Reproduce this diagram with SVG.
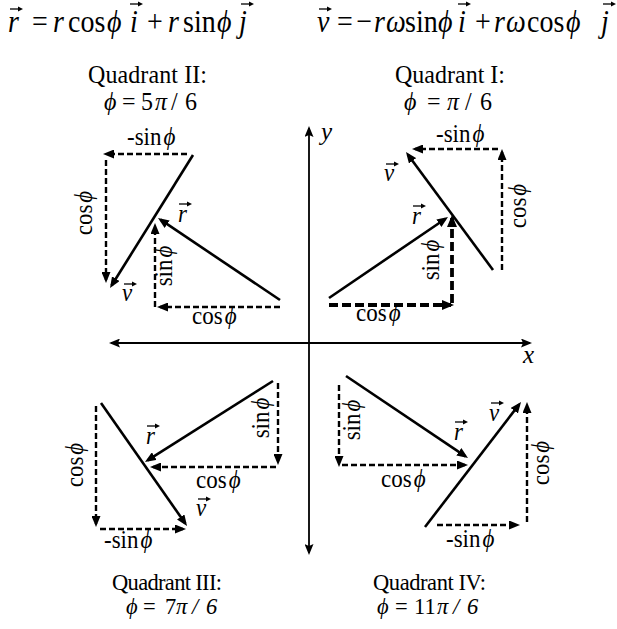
<svg xmlns="http://www.w3.org/2000/svg" width="617" height="629" viewBox="0 0 617 629">
<style>
text{font-family:"Liberation Serif","Times New Roman",serif;fill:#000}
.eq{font-size:28px}
.t{font-size:24px}
.tb{font-size:22.5px}
.l{font-size:23px}
.i{font-style:italic}
.vec{stroke:#000;stroke-width:2.6;fill:none;marker-end:url(#ah)}
.dash{stroke:#000;stroke-width:2.4;stroke-dasharray:6 3;fill:none;marker-end:url(#ah)}
.dashb{stroke:#000;stroke-width:3.8;stroke-dasharray:9 4;fill:none;marker-end:url(#ahb)}
.axis{stroke:#000;stroke-width:1.8;fill:none;marker-end:url(#aa)}
</style>
<defs>
<marker id="ah" markerUnits="userSpaceOnUse" markerWidth="11" markerHeight="9" refX="8" refY="4.5" orient="auto"><path d="M0,0 L11,4.5 L0,9 z"/></marker>
<marker id="ahb" markerUnits="userSpaceOnUse" markerWidth="12" markerHeight="10" refX="9" refY="5" orient="auto"><path d="M0,0 L12,5 L0,10 z"/></marker>
<marker id="aa" markerUnits="userSpaceOnUse" markerWidth="11" markerHeight="9" refX="9" refY="4.5" orient="auto"><path d="M0,0 L11,4.5 L0,9 L2,4.5 z"/></marker>
<g id="va"><path d="M-6,0 H3" stroke="#000" stroke-width="1.3"/><path d="M2,-2.6 L7,0 L2,2.6 z"/></g>
</defs>
<rect width="617" height="629" fill="#fff"/>

<g id="equation-r">
<text class="eq" transform="translate(0,32) scale(1,1.15)"><tspan class="i" x="8">r</tspan><tspan x="32">=</tspan><tspan class="i" x="53">r</tspan><tspan x="68">cos</tspan><tspan class="i" x="107">ϕ</tspan><tspan class="i" x="130">i</tspan><tspan x="147">+</tspan><tspan class="i" x="168">r</tspan><tspan x="183">sin</tspan><tspan class="i" x="217">ϕ</tspan><tspan class="i" x="239">j</tspan></text>
<use href="#va" x="16" y="9"/><use href="#va" x="136" y="4"/><use href="#va" x="247" y="4"/>
</g>
<g id="equation-v">
<text class="eq" transform="translate(0,32) scale(1,1.15)"><tspan class="i" x="317">v</tspan><tspan x="337">=</tspan><tspan x="356">−</tspan><tspan class="i" x="374">r</tspan><tspan class="i" x="386">ω</tspan><tspan x="405">sin</tspan><tspan class="i" x="438">ϕ</tspan><tspan class="i" x="458">i</tspan><tspan x="475">+</tspan><tspan class="i" x="494">r</tspan><tspan class="i" x="506">ω</tspan><tspan x="527">cos</tspan><tspan class="i" x="566">ϕ</tspan><tspan class="i" x="601">j</tspan></text>
<use href="#va" x="325" y="9"/><use href="#va" x="464" y="4"/><use href="#va" x="609" y="4"/>
</g>

<g id="axes">
<line class="axis" x1="309" y1="343" x2="309" y2="128"/>
<line class="axis" x1="309" y1="343" x2="309" y2="553"/>
<line class="axis" x1="309" y1="343" x2="111" y2="343"/>
<line class="axis" x1="309" y1="343" x2="530" y2="343"/>
<text class="i" x="321" y="140" font-size="25">y</text>
<text class="i" x="523" y="363" font-size="25">x</text>
</g>

<g id="quadrant-2">
<text class="t" transform="translate(0,83) scale(1,1.08)" x="88" textLength="119" lengthAdjust="spacing">Quadrant II:</text>
<text class="t" transform="translate(0,110) scale(1,1.08)"><tspan class="i" x="104">ϕ</tspan><tspan x="122">=</tspan><tspan x="141">5</tspan><tspan class="i" x="155">π</tspan><tspan x="171">/</tspan><tspan x="185">6</tspan></text>
<text class="l" transform="translate(127,145) scale(1,1.08)">-sin<tspan class="i" dx="2">ϕ</tspan></text>
<text class="l" transform="translate(92,213) rotate(-90) scale(1,1.08)" text-anchor="middle">cos<tspan class="i" dx="2">ϕ</tspan></text>
<text class="l" transform="translate(172,266) rotate(-90) scale(1,1.08)" text-anchor="middle">sin<tspan class="i" dx="2">ϕ</tspan></text>
<text class="l" transform="translate(192,324) scale(1,1.08)">cos<tspan class="i" dx="2">ϕ</tspan></text>
<text class="l i" transform="translate(178,222) scale(1,1.08)">r</text><use href="#va" x="185" y="204"/>
<text class="l i" transform="translate(122,301) scale(1,1.08)">v</text><use href="#va" x="130" y="284"/>
</g>

<g id="quadrant-1">
<text class="t" transform="translate(0,83) scale(1,1.08)" x="395" textLength="110" lengthAdjust="spacing">Quadrant I:</text>
<text class="t" transform="translate(0,110) scale(1,1.08)"><tspan class="i" x="404">ϕ</tspan><tspan x="427">=</tspan><tspan class="i" x="447">π</tspan><tspan x="465">/</tspan><tspan x="480">6</tspan></text>
<text class="l" transform="translate(436,142) scale(1,1.08)">-sin<tspan class="i" dx="2">ϕ</tspan></text>
<text class="l" transform="translate(526,206) rotate(-90) scale(1,1.08)" text-anchor="middle">cos<tspan class="i" dx="2">ϕ</tspan></text>
<text class="l" transform="translate(439,260) rotate(-90) scale(1,1.08)" text-anchor="middle">sin<tspan class="i" dx="2">ϕ</tspan></text>
<text class="l" transform="translate(356,321) scale(1,1.08)">cos<tspan class="i" dx="2">ϕ</tspan></text>
<text class="l i" transform="translate(412,224) scale(1,1.08)">r</text><use href="#va" x="419" y="206"/>
<text class="l i" transform="translate(384,181) scale(1,1.08)">v</text><use href="#va" x="392" y="164"/>
</g>

<g id="quadrant-3">
<text class="tb" x="112" y="590" textLength="110" lengthAdjust="spacing">Quadrant III:</text>
<text class="tb" y="614"><tspan class="i" x="126">ϕ</tspan><tspan x="143">=</tspan><tspan x="165">7</tspan><tspan class="i" x="176">π</tspan><tspan class="i" x="192">/</tspan><tspan class="i" x="206">6</tspan></text>
<text class="l" transform="translate(269,418) rotate(-90) scale(1,1.08)" text-anchor="middle">sin<tspan class="i" dx="2">ϕ</tspan></text>
<text class="l" transform="translate(196,488) scale(1,1.08)">cos<tspan class="i" dx="2">ϕ</tspan></text>
<text class="l" transform="translate(83,465) rotate(-90) scale(1,1.08)" text-anchor="middle">cos<tspan class="i" dx="2">ϕ</tspan></text>
<text class="l" transform="translate(104,548) scale(1,1.08)">-sin<tspan class="i" dx="2">ϕ</tspan></text>
<text class="l i" transform="translate(146,444) scale(1,1.08)">r</text><use href="#va" x="153" y="426"/>
<text class="l i" transform="translate(196,516) scale(1,1.08)">v</text><use href="#va" x="204" y="499"/>
</g>

<g id="quadrant-4">
<text class="tb" x="373" y="590" textLength="113" lengthAdjust="spacing">Quadrant IV:</text>
<text class="tb" y="614"><tspan class="i" x="377">ϕ</tspan><tspan x="395">=</tspan><tspan x="414">11</tspan><tspan class="i" x="437">π</tspan><tspan class="i" x="453">/</tspan><tspan class="i" x="467">6</tspan></text>
<text class="l" transform="translate(360,420) rotate(-90) scale(1,1.08)" text-anchor="middle">sin<tspan class="i" dx="2">ϕ</tspan></text>
<text class="l" transform="translate(381,487) scale(1,1.08)">cos<tspan class="i" dx="2">ϕ</tspan></text>
<text class="l" transform="translate(549,463) rotate(-90) scale(1,1.08)" text-anchor="middle">cos<tspan class="i" dx="2">ϕ</tspan></text>
<text class="l" transform="translate(446,547) scale(1,1.08)">-sin<tspan class="i" dx="2">ϕ</tspan></text>
<text class="l i" transform="translate(454,440) scale(1,1.08)">r</text><use href="#va" x="461" y="422"/>
<text class="l i" transform="translate(489,421) scale(1,1.08)">v</text><use href="#va" x="497" y="403"/>
</g>

<g id="connectors">
<line class="vec" x1="280" y1="300" x2="160.5" y2="219.7"/>
<line class="vec" x1="193" y1="155" x2="111.6" y2="285.5"/>
<line class="dash" x1="187" y1="154" x2="106" y2="154"/>
<line class="dash" x1="106" y1="160" x2="106" y2="280"/>
<line class="dash" x1="280" y1="307" x2="160" y2="307"/>
<line class="dash" x1="155" y1="307" x2="155" y2="226"/>
<line class="vec" x1="329" y1="298" x2="445.5" y2="218.7"/>
<line class="vec" x1="493" y1="270" x2="407.8" y2="154.4"/>
<line class="dashb" x1="329" y1="305" x2="451" y2="305"/>
<line class="dashb" x1="452" y1="303" x2="452" y2="218"/>
<line class="dash" x1="502" y1="270" x2="502" y2="152"/>
<line class="dash" x1="498" y1="149" x2="415" y2="149"/>
<line class="vec" x1="273" y1="381" x2="147.5" y2="460.4"/>
<line class="vec" x1="101" y1="403" x2="185.3" y2="523.5"/>
<line class="dash" x1="278" y1="383" x2="278" y2="462"/>
<line class="dash" x1="276" y1="467" x2="153" y2="467"/>
<line class="dash" x1="96" y1="406" x2="96" y2="524"/>
<line class="dash" x1="100" y1="529" x2="183" y2="529"/>
<line class="vec" x1="346" y1="376" x2="465.5" y2="456.3"/>
<line class="vec" x1="425" y1="527" x2="519.2" y2="404.4"/>
<line class="dash" x1="339" y1="385" x2="339" y2="464"/>
<line class="dash" x1="342" y1="465" x2="465" y2="465"/>
<line class="dash" x1="437" y1="525" x2="517" y2="525"/>
<line class="dash" x1="527" y1="522" x2="527" y2="405"/>
</g>
</svg>
